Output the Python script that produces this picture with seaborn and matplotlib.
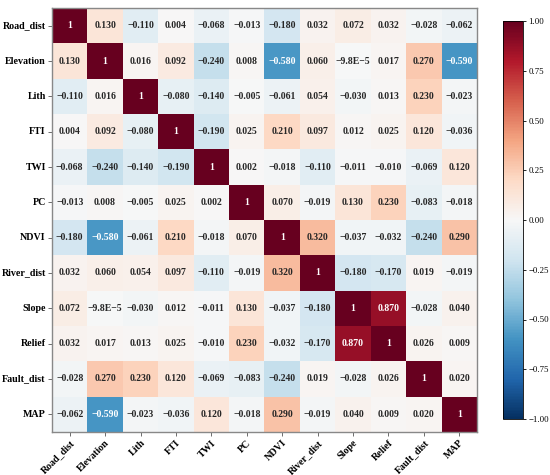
import numpy as np
import pandas as pd
import matplotlib
matplotlib.use('Agg')
import matplotlib.pyplot as plt
import seaborn as sns

# --- Factor names ---
factors = ['Road_dist', 'Elevation', 'Lith', 'FTI', 'TWI', 'PC', 'NDVI',
           'River_dist', 'Slope', 'Relief', 'Fault_dist', 'MAP']

# --- Pearson correlation matrix ---
corr_rows = [
    [1, 0.130, -0.110, 0.004, -0.068, -0.013, -0.180, 0.032, 0.072, 0.032, -0.028, -0.062],
    [0.130, 1, 0.016, 0.092, -0.240, 0.008, -0.580, 0.060, -9.8e-5, 0.017, 0.270, -0.590],
    [-0.110, 0.016, 1, -0.080, -0.140, -0.005, -0.061, 0.054, -0.030, 0.013, 0.230, -0.023],
    [0.004, 0.092, -0.080, 1, -0.190, 0.025, 0.210, 0.097, 0.012, 0.025, 0.120, -0.036],
    [-0.068, -0.240, -0.140, -0.190, 1, 0.002, -0.018, -0.110, -0.011, -0.010, -0.069, 0.120],
    [-0.013, 0.008, -0.005, 0.025, 0.002, 1, 0.070, -0.019, 0.130, 0.230, -0.083, -0.018],
    [-0.180, -0.580, -0.061, 0.210, -0.018, 0.070, 1, 0.320, -0.037, -0.032, -0.240, 0.290],
    [0.032, 0.060, 0.054, 0.097, -0.110, -0.019, 0.320, 1, -0.180, -0.170, 0.019, -0.019],
    [0.072, -9.8e-5, -0.030, 0.012, -0.011, 0.130, -0.037, -0.180, 1, 0.870, -0.028, 0.040],
    [0.032, 0.017, 0.013, 0.025, -0.010, 0.230, -0.032, -0.170, 0.870, 1, 0.026, 0.009],
    [-0.028, 0.270, 0.230, 0.120, -0.069, -0.083, -0.240, 0.019, -0.028, 0.026, 1, 0.020],
    [-0.062, -0.590, -0.023, -0.036, 0.120, -0.018, 0.290, -0.019, 0.040, 0.009, 0.020, 1],
]

corr = pd.DataFrame(corr_rows, index=factors, columns=factors)


def fmt_cell(v):
    if v == 1:
        s = '1'
    elif abs(v) < 1e-3 and v != 0:
        s = f'{v:.1E}'.replace('E-0', 'E-')
    else:
        s = f'{v:.3f}'
    return s.replace('-', '\u2212')


labels = np.array([[fmt_cell(v) for v in row] for row in corr_rows])

plt.rcParams['font.family'] = ['Liberation Serif', 'DejaVu Serif']

fig = plt.figure(figsize=(5.5, 4.75), dpi=100)
ax = fig.add_axes([52 / 550, 43 / 475, 425 / 550, 424 / 475])
cax = fig.add_axes([503 / 550, 56 / 475, 20 / 550, 398 / 475])

sns.heatmap(corr, ax=ax, cbar_ax=cax, cmap='RdBu_r', vmin=-1, vmax=1,
            annot=labels, fmt='', annot_kws={'fontsize': 7, 'fontweight': 'bold'})

ax.set_xticklabels(factors, rotation=45, ha='right', rotation_mode='anchor',
                   fontsize=7.2, fontweight='bold')
ax.set_yticklabels(factors, rotation=0, fontsize=7.2, fontweight='bold')
ax.tick_params(axis='both', length=3, width=0.6, color='#555555', pad=1.5)
for sp in ax.spines.values():
    sp.set_visible(True)
    sp.set_color('#888888')
    sp.set_linewidth(1.0)

cax.set_yticks([-1, -0.75, -0.5, -0.25, 0, 0.25, 0.5, 0.75, 1])
cax.set_yticklabels([f'{t:.2f}'.replace('-', '\u2212') for t in cax.get_yticks()], fontsize=6.3)
cax.tick_params(length=2.5, width=0.6, pad=1.5)
cax.spines['outline'].set_visible(True)
cax.spines['outline'].set_linewidth(0.6)

fig.savefig('out.png', dpi=100)
